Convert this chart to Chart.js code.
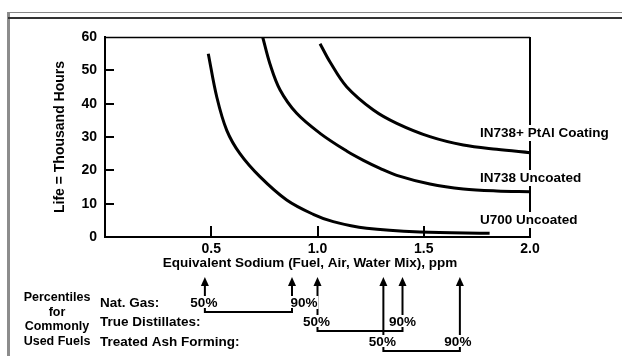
<!DOCTYPE html>
<html>
<head>
<meta charset="utf-8">
<script src="https://cdn.jsdelivr.net/npm/chart.js@4.4.0/dist/chart.umd.min.js"></script>
<style>
  html, body { margin: 0; padding: 0; background: #fff; }
  #wrap { width: 622px; height: 356px; }
</style>
</head>
<body>
<div id="wrap"><canvas id="lifeChart" width="622" height="356"></canvas></div>
<script>
// Equivalent sodium (ppm) against life (thousand hours)
const u700Na    = [0.486, 0.526, 0.573, 0.635, 0.729, 0.855, 0.98, 1.074, 1.231, 1.482, 1.81];
const u700Life  = [55, 42, 32, 25, 18.1, 11.1, 6.8, 4.6, 2.6, 1.5, 1.1];

const in738Na   = [0.742, 0.776, 0.824, 0.902, 1.012, 1.137, 1.216, 1.294, 1.373, 1.529, 1.686, 1.843, 2.0];
const in738Life = [60, 52, 44.1, 37.1, 31.1, 25.8, 23.0, 20.6, 18.5, 15.9, 14.4, 13.8, 13.6];

const ptalNa    = [1.012, 1.059, 1.137, 1.263, 1.373, 1.529, 1.686, 1.843, 2.0];
const ptalLife  = [58, 52.5, 45.1, 38.1, 34.1, 30.1, 27.6, 26.3, 25.3];

const seriesNames = ['U700 Uncoated', 'IN738 Uncoated', 'IN738+ PtAl Coating'];

// percentiles of sodium for commonly used fuels
const fuelTypes = ['Nat. Gas:', 'True Distillates:', 'Treated Ash Forming:'];
const pct50 = [0.47, 1.0, 1.31];
const pct90 = [0.88, 1.40, 1.67];

const yTicks = [0, 10, 20, 30, 40, 50, 60];
const xTicks = [0.5, 1.0, 1.5, 2.0];

const FONT = '"Liberation Sans", Arial, Helvetica, sans-serif';
Chart.defaults.font.family = FONT;
Chart.defaults.color = '#000';

function toPoints(xs, ys) {
  return xs.map((v, i) => ({ x: v, y: ys[i] }));
}

function arrowUp(ctx, x, top, bottom) {
  ctx.beginPath();
  ctx.moveTo(x, top + 6);
  ctx.lineTo(x, bottom);
  ctx.stroke();
  ctx.beginPath();
  ctx.moveTo(x, top);
  ctx.lineTo(x - 4, top + 9);
  ctx.lineTo(x + 4, top + 9);
  ctx.closePath();
  ctx.fill();
}

function textOnWhite(ctx, str, x, y, align) {
  ctx.textAlign = align;
  const w = ctx.measureText(str).width;
  const left = align === 'center' ? x - w / 2 : x;
  ctx.fillStyle = '#fff';
  ctx.fillRect(left - 1, y - 7, w + 2, 13);
  ctx.fillStyle = '#000';
  ctx.fillText(str, x, y);
}

const annotations = {
  id: 'annotations',
  beforeDraw(chart) {
    const ctx = chart.ctx;
    ctx.save();
    ctx.fillStyle = '#fff';
    ctx.fillRect(0, 0, chart.width, chart.height);
    // page frame from the scan
    ctx.strokeStyle = '#8c8c8c';
    ctx.lineWidth = 3;
    ctx.beginPath(); ctx.moveTo(8.5, 12); ctx.lineTo(8.5, chart.height); ctx.stroke();
    ctx.strokeStyle = '#888';
    ctx.lineWidth = 1;
    ctx.beginPath(); ctx.moveTo(8, 12.5); ctx.lineTo(chart.width, 12.5); ctx.stroke();
    ctx.strokeStyle = '#333';
    ctx.lineWidth = 2;
    ctx.beginPath(); ctx.moveTo(8, 18); ctx.lineTo(chart.width, 18); ctx.stroke();
    ctx.restore();
  },
  afterDraw(chart) {
    const ctx = chart.ctx;
    const xs = chart.scales.x, ys = chart.scales.y;
    const a = chart.chartArea;
    ctx.save();
    ctx.strokeStyle = '#000';
    ctx.fillStyle = '#000';

    // top and right sides of the plot box
    ctx.lineWidth = 1.5;
    ctx.beginPath(); ctx.moveTo(a.left, a.top + 0.5); ctx.lineTo(a.right, a.top + 0.5); ctx.stroke();
    ctx.lineWidth = 2;
    ctx.beginPath(); ctx.moveTo(a.right, a.top); ctx.lineTo(a.right, a.bottom); ctx.stroke();

    // inward tick marks
    ctx.lineWidth = 2;
    yTicks.slice(1, -1).forEach(v => {
      const py = Math.round(ys.getPixelForValue(v));
      ctx.beginPath(); ctx.moveTo(a.left, py); ctx.lineTo(a.left + 9, py); ctx.stroke();
    });
    xTicks.slice(0, -1).forEach(v => {
      const px = Math.round(xs.getPixelForValue(v));
      ctx.beginPath(); ctx.moveTo(px, a.bottom); ctx.lineTo(px, a.bottom - 11); ctx.stroke();
    });

    // axis titles
    ctx.textBaseline = 'middle';
    ctx.font = 'bold 14px ' + FONT;
    ctx.save();
    ctx.translate(60, (a.top + a.bottom) / 2);
    ctx.rotate(-Math.PI / 2);
    ctx.textAlign = 'center';
    ctx.fillText('Life = Thousand Hours', 0, 0);
    ctx.restore();
    ctx.font = 'bold 13.5px ' + FONT;
    ctx.textAlign = 'center';
    ctx.fillText('Equivalent Sodium (Fuel, Air, Water Mix), ppm', 310, 263);

    // curve labels, sitting over the right edge of the box
    ctx.font = 'bold 13.5px ' + FONT;
    const labelY = [220, 178, 133];
    seriesNames.forEach((name, i) => {
      const py = labelY[i];
      const w = ctx.measureText(name).width;
      ctx.fillStyle = '#fff';
      ctx.fillRect(477, py - 8, w + 6, 16);
      ctx.fillStyle = '#000';
      ctx.textAlign = 'left';
      ctx.fillText(name, 480, py);
    });

    // percentiles for commonly used fuels
    const rowY = [303, 322, 342];
    const tipY = 277;
    ctx.lineWidth = 2;
    fuelTypes.forEach((name, i) => {
      arrowUp(ctx, xs.getPixelForValue(pct50[i]), tipY, rowY[i] - 7);
      arrowUp(ctx, xs.getPixelForValue(pct90[i]), tipY, rowY[i] - 7);
    });
    ctx.font = 'bold 13.5px ' + FONT;
    const shift90 = [12, 0, -2];
    fuelTypes.forEach((name, i) => {
      textOnWhite(ctx, name, 100, rowY[i], 'left');
      textOnWhite(ctx, '50%', xs.getPixelForValue(pct50[i]) - 1, rowY[i], 'center');
      textOnWhite(ctx, '90%', xs.getPixelForValue(pct90[i]) + shift90[i], rowY[i], 'center');
    });
    fuelTypes.forEach((name, i) => {
      const xa = xs.getPixelForValue(pct50[i]);
      const xb = xs.getPixelForValue(pct90[i]);
      const yl = rowY[i] + 9;
      ctx.beginPath();
      ctx.moveTo(xa, yl - 4); ctx.lineTo(xa, yl); ctx.lineTo(xb, yl); ctx.lineTo(xb, yl - 4);
      ctx.stroke();
    });

    ctx.font = 'bold 12.5px ' + FONT;
    ctx.textAlign = 'center';
    ctx.fillStyle = '#000';
    [['Percentiles', 298], ['for', 313], ['Commonly', 327], ['Used Fuels', 342]].forEach(([t, py]) => {
      ctx.fillText(t, 57, py);
    });
    ctx.restore();
  }
};

const lineStyle = {
  borderColor: '#000',
  borderWidth: 3,
  pointRadius: 0,
  fill: false,
  tension: 0.35
};

new Chart(document.getElementById('lifeChart').getContext('2d'), {
  type: 'line',
  data: {
    datasets: [
      { label: seriesNames[0], data: toPoints(u700Na, u700Life), ...lineStyle },
      { label: seriesNames[1], data: toPoints(in738Na, in738Life), ...lineStyle },
      { label: seriesNames[2], data: toPoints(ptalNa, ptalLife), ...lineStyle }
    ]
  },
  options: {
    responsive: false,
    animation: false,
    devicePixelRatio: 1,
    layout: { padding: { top: 37, right: 92, left: 0, bottom: 0 } },
    plugins: {
      legend: { display: false },
      tooltip: { enabled: false }
    },
    scales: {
      x: {
        type: 'linear',
        min: 0,
        max: 2,
        afterFit: s => { s.height = 119; },
        afterBuildTicks: s => { s.ticks = xTicks.map(v => ({ value: v })); },
        ticks: {
          padding: 4,
          font: { size: 14, weight: 'bold' },
          callback: v => v.toFixed(1)
        },
        grid: { display: false, drawTicks: false },
        border: { display: true, color: '#000', width: 2 }
      },
      y: {
        min: 0,
        max: 60,
        afterFit: s => { s.width = 105; },
        afterBuildTicks: s => { s.ticks = yTicks.map(v => ({ value: v })); },
        ticks: {
          padding: 8,
          font: { size: 14, weight: 'bold' }
        },
        grid: { display: false, drawTicks: false },
        border: { display: true, color: '#000', width: 2 }
      }
    }
  },
  plugins: [annotations]
});
</script>
</body>
</html>
